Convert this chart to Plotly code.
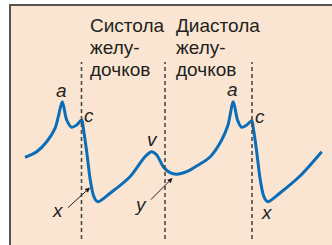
import plotly.graph_objects as go

# Jugular venous pulse (arbitrary units): time vs pressure
time = [25, 36.7, 46.7, 55, 58.3, 62.3, 66.7, 71.7, 76.7, 81.7, 83.3, 86.7, 90, 93.3, 96, 98.3,
        110, 130, 145, 151.7, 156.7, 163.3, 170, 176.7, 186.7, 198.3, 210, 221.7, 228, 233.3,
        237.5, 241.7, 246.7, 251.7, 253.3, 256.7, 260, 263.3, 266, 268.3, 280, 300, 321.7]
pressure = [87.7, 93.3, 103.3, 116.7, 128.3, 143.3, 125, 117.7, 120, 125, 116.7, 93.3, 66.7, 50, 44.5, 43.3,
            51.7, 68.3, 88.3, 93.3, 90, 78.3, 72.3, 70.7, 73.3, 80, 88, 105, 120, 143.3,
            125, 117.7, 120, 124.3, 116.7, 93.3, 66.7, 50, 44.5, 43.3, 52, 69, 93.3]

phase_bounds = [81.5, 165, 252]
phase_titles = [["Систола", "желу-", "дочков"], ["Диастола", "желу-", "дочков"]]
phase_title_x = [88, 174]

wave_labels = ["a", "c", "x", "v", "y", "a", "c", "x"]
wave_label_t = [61.5, 89, 58, 152.5, 140, 232, 260, 267]
wave_label_p = [155, 130, 35, 106, 41, 156, 129, 33]

BLUE = "#0b6db7"
INK = "#231f20"

fig = go.Figure()
fig.add_trace(go.Scatter(x=time, y=pressure, mode="lines",
                         line=dict(color=BLUE, width=3, shape="spline", smoothing=0.85),
                         hoverinfo="skip"))

shapes = []
for b in phase_bounds:
    shapes.append(dict(type="line", xref="x", yref="y", x0=b, x1=b, y0=6, y1=183,
                       line=dict(color="#4a4a4a", width=1.6, dash="4px,3px")))

annotations = []
for title, tx in zip(phase_titles, phase_title_x):
    for i, line in enumerate(title):
        annotations.append(dict(x=tx, y=220 - i * 22, xref="x", yref="y", text=line,
                                showarrow=False, xanchor="left", yanchor="middle",
                                font=dict(family="Liberation Sans, Arial", size=19, color=INK)))
for lab, t, p in zip(wave_labels, wave_label_t, wave_label_p):
    annotations.append(dict(x=t, y=p, xref="x", yref="y", text="<i>" + lab + "</i>",
                            showarrow=False, xanchor="center", yanchor="middle",
                            font=dict(family="Liberation Sans, Arial", size=19, color=INK)))
# arrows pointing to x and y descents
for (hx, hy, tx, ty) in [(90, 57.5, 66.5, 36), (172.5, 67, 149.5, 44)]:
    annotations.append(dict(x=hx, y=hy, ax=tx, ay=ty, xref="x", yref="y", axref="x", ayref="y",
                            text="", showarrow=True, arrowhead=2, arrowsize=1, arrowwidth=1,
                            arrowcolor=INK))

fig.update_layout(
    width=332, height=245,
    margin=dict(l=11, r=0, t=6, b=0),
    paper_bgcolor="white", plot_bgcolor="#fae5d3",
    showlegend=False,
    shapes=shapes, annotations=annotations,
    xaxis=dict(range=[11, 332], showgrid=False, zeroline=False, showticklabels=False,
               ticks="", showline=True, side="top", linecolor="#555555", linewidth=2),
    yaxis=dict(range=[0, 239], showgrid=False, zeroline=False, showticklabels=False,
               ticks="", showline=True, linecolor="#555555", linewidth=2),
)

fig.write_html("out.html", config={"displayModeBar": False},
               post_script="document.body.style.margin='0';document.body.style.overflow='hidden';")
